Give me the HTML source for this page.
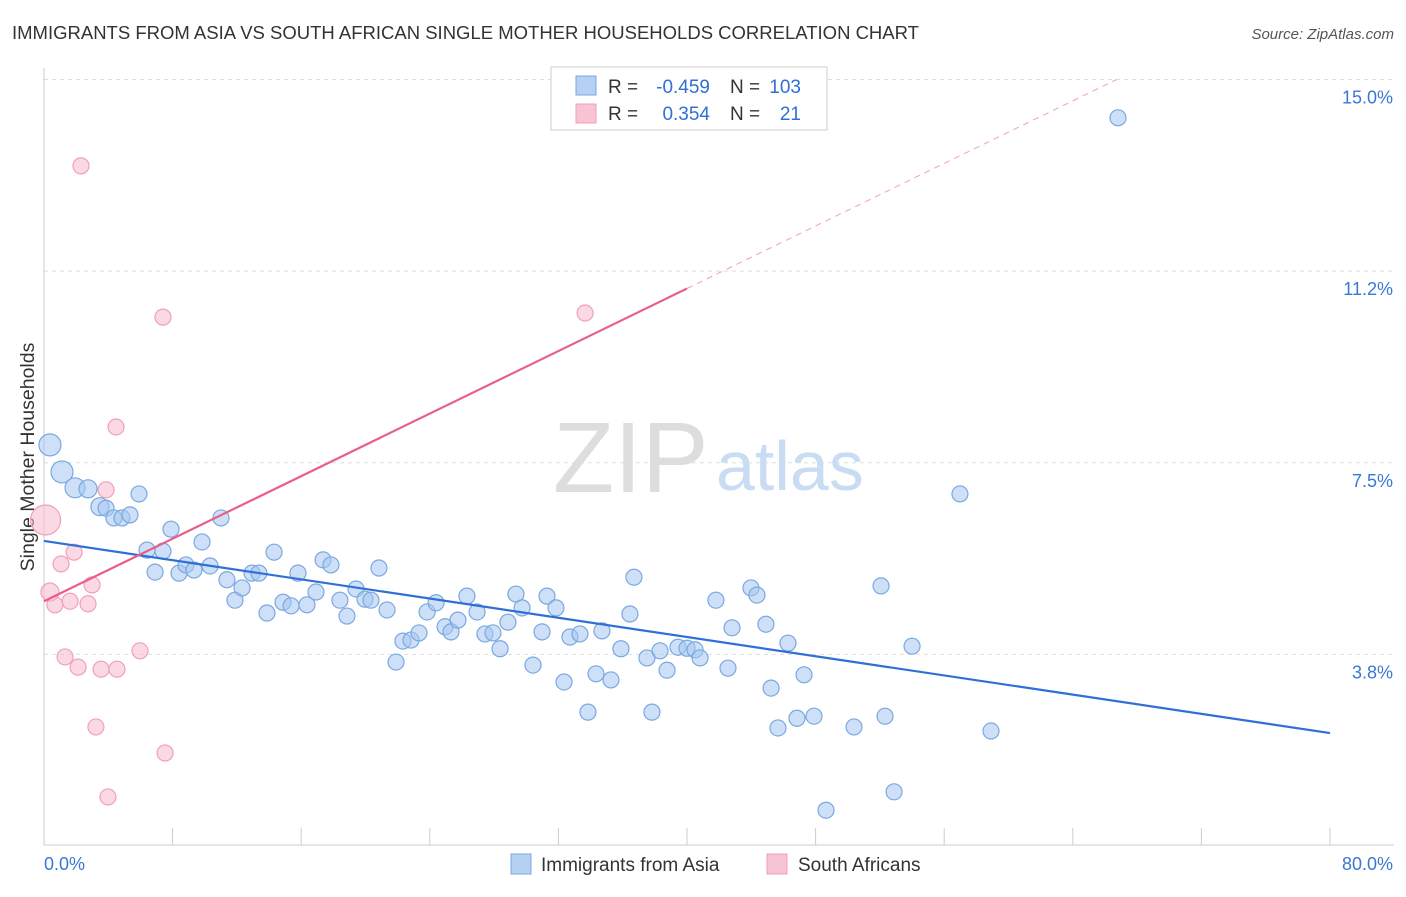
<!DOCTYPE html>
<html><head><meta charset="utf-8"><style>
body{margin:0;background:#fff;font-family:"Liberation Sans",sans-serif;}
svg text{font-family:"Liberation Sans",sans-serif;}
</style></head><body>
<svg id="c" width="1406" height="892" xmlns="http://www.w3.org/2000/svg">
<text x="12" y="39" font-size="18.5" fill="#333">IMMIGRANTS FROM ASIA VS SOUTH AFRICAN SINGLE MOTHER HOUSEHOLDS CORRELATION CHART</text>
<text x="1394" y="39" font-size="15" fill="#555" font-style="italic" text-anchor="end">Source: ZipAtlas.com</text>
<g><text x="553" y="492" font-size="100" font-family="Liberation Serif" fill="#ddd">ZIP</text><text x="716" y="490" font-size="70" fill="#c8dcf3">atlas</text></g>
<text transform="translate(34,457) rotate(-90)" font-size="19.5" fill="#333" text-anchor="middle">Single Mother Households</text>
<g id="grid"></g><g id="pts"></g><g id="lines"></g>
<g>
<rect x="551" y="67" width="276" height="63" fill="#fff" stroke="#ccc"/>
<rect x="576" y="76" width="20" height="19" fill="#b5d0f3" stroke="#7aa8e0"/>
<rect x="576" y="104" width="20" height="19" fill="#f8c3d3" stroke="#f0a0b8"/>
<text x="608" y="93" font-size="19" fill="#333">R =</text>
<text x="710" y="93" font-size="19" fill="#2f6fd6" text-anchor="end">-0.459</text>
<text x="730" y="93" font-size="19" fill="#333">N =</text>
<text x="801" y="93" font-size="19" fill="#2f6fd6" text-anchor="end">103</text>
<text x="608" y="120" font-size="19" fill="#333">R =</text>
<text x="710" y="120" font-size="19" fill="#2f6fd6" text-anchor="end">0.354</text>
<text x="730" y="120" font-size="19" fill="#333">N =</text>
<text x="801" y="120" font-size="19" fill="#2f6fd6" text-anchor="end">21</text>
</g>
<g>
<rect x="511" y="854" width="20" height="20" fill="#b5d0f3" stroke="#7aa8e0"/>
<text x="541" y="871" font-size="19" fill="#333">Immigrants from Asia</text>
<rect x="767" y="854" width="20" height="20" fill="#f8c3d3" stroke="#f0a0b8"/>
<text x="798" y="871" font-size="19" fill="#333">South Africans</text>
</g>
</svg>
<script>
const yTicks=[3.75,7.5,11.25,15];
const yTickLabels=["3.8%","7.5%","11.2%","15.0%"];
const xTicks=[0,8,16,24,32,40,48,56,64,72,80];
const xTickLabels=["0.0%","80.0%"];
const asiaX=[0.37,1.12,1.93,2.74,3.48,3.86,4.35,4.85,5.35,5.91,6.41,6.91,7.40,7.90,8.40,8.83,9.33,9.83,10.33,11.01,11.38,11.88,12.32,12.94,13.37,13.87,14.31,14.87,15.37,15.80,16.36,16.92,17.36,17.85,18.41,18.85,19.41,19.97,20.34,20.84,21.34,21.90,22.33,22.83,23.33,23.83,24.39,24.95,25.32,25.75,26.31,26.94,27.43,27.93,28.37,28.86,29.36,29.74,30.42,30.98,31.29,31.85,32.35,32.72,33.34,33.84,34.34,34.71,35.27,35.89,36.45,36.70,37.51,37.82,38.32,38.76,39.44,40.00,40.50,40.81,41.80,42.55,42.80,43.98,44.35,44.91,45.23,45.66,46.28,46.84,47.28,47.90,48.65,50.39,52.07,52.32,52.88,54.00,56.98,58.91,66.81];
const asiaY=[7.85,7.32,7.01,6.99,6.64,6.61,6.42,6.42,6.48,6.89,5.79,5.36,5.77,6.20,5.34,5.50,5.40,5.95,5.48,6.42,5.21,4.81,5.05,5.34,5.34,4.56,5.75,4.77,4.70,5.34,4.72,4.97,5.60,5.50,4.81,4.50,5.03,4.83,4.81,5.44,4.62,3.60,4.01,4.03,4.17,4.58,4.76,4.29,4.19,4.42,4.89,4.58,4.15,4.17,3.86,4.38,4.93,4.66,3.54,4.19,4.89,4.66,3.21,4.09,4.15,2.62,3.37,4.21,3.25,3.86,4.54,5.26,3.68,2.62,3.82,3.44,3.89,3.87,3.84,3.68,4.81,3.48,4.27,5.05,4.91,4.34,3.09,2.31,3.97,2.50,3.35,2.54,0.70,2.33,5.09,2.54,1.06,3.91,6.89,2.25,14.25];
const asiaR=[11,11,10,9,9,8,8,8,8,8];
const saX=[0.37,0.1,0.68,1.06,1.62,1.87,1.31,2.12,2.74,2.99,3.23,3.55,3.98,4.54,4.48,3.86,5.97,7.53,7.40,2.30,33.66];
const saY=[4.97,6.38,4.72,5.52,4.79,5.75,3.70,3.50,4.74,5.11,2.33,3.46,0.96,3.46,8.20,6.97,3.82,1.82,10.35,13.31,10.43];
const saR=[9,15];
const asiaTrend=[5.97,-0.047];
const saTrend=[4.79,0.153];
const saTrendSolidEnd=40;
const sx=v=>44+v*16.075, sy=v=>846-v*51.1;
const NS="http://www.w3.org/2000/svg";
function mk(p,t,a){const e=document.createElementNS(NS,t);for(const k in a)e.setAttribute(k,a[k]);document.getElementById(p).appendChild(e);return e;}
yTicks.forEach((t,i)=>{
 const l=mk('grid','line',{x1:44,x2:1394,y1:sy(t),y2:sy(t),stroke:'#ddd','stroke-dasharray':'4,4'});
 
 
 const tx=mk('grid','text',{x:1393,y:sy(t)+24,'font-size':18,fill:'#3a78d4','text-anchor':'end'});
 tx.textContent=yTickLabels[i];
 
 
});
const ax=mk('grid','line',{x1:44,x2:1394,y1:845,y2:845,stroke:'#ccc'});


const ay=mk('grid','line',{x1:44,x2:44,y1:68,y2:845,stroke:'#ccc'});


xTicks.forEach(t=>{const l=mk('grid','line',{x1:sx(t),x2:sx(t),y1:828,y2:845,stroke:'#ccc'});
 
 });
[[0,44,'start'],[1,1393,'end']].forEach(([i,x,a])=>{const t=mk('grid','text',{x:x,y:870,'font-size':18,fill:'#3a78d4','text-anchor':a});t.textContent=xTickLabels[i];
 
 });
asiaX.forEach((v,i)=>{const c=mk('pts','circle',{cx:sx(v),cy:sy(asiaY[i]),r:asiaR[i]||8,fill:'rgba(165,198,240,0.55)',stroke:'#7aa8e0','stroke-width':1.2});
 
 });
saX.forEach((v,i)=>{const c=mk('pts','circle',{cx:sx(v),cy:sy(saY[i]),r:saR[i]||8,fill:'rgba(248,185,205,0.55)',stroke:'#f0a0b8','stroke-width':1.2});
 
 });
const bl=mk('lines','line',{x1:sx(0),y1:sy(asiaTrend[0]),x2:sx(80),y2:sy(asiaTrend[0]+asiaTrend[1]*80),stroke:'#2f6fd6','stroke-width':2.2});


const pl=mk('lines','line',{x1:sx(0),y1:sy(saTrend[0]),x2:sx(saTrendSolidEnd),y2:sy(saTrend[0]+saTrend[1]*saTrendSolidEnd),stroke:'#e8608a','stroke-width':2.2});


const xe=(15-saTrend[0])/saTrend[1];
const pd=mk('lines','line',{x1:sx(saTrendSolidEnd),y1:sy(saTrend[0]+saTrend[1]*saTrendSolidEnd),x2:sx(xe),y2:sy(15),stroke:'#f0a0b8','stroke-width':1,'stroke-dasharray':'6,5'});


</script>
</body></html>
